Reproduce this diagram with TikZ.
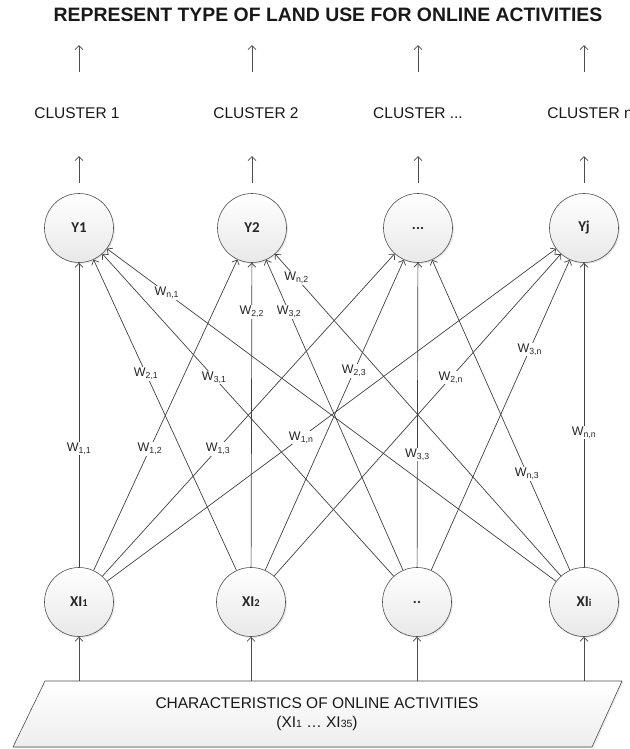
\documentclass[tikz,border=0pt]{standalone}
\usepackage{fontspec}
\setmainfont{Liberation Sans}
\newfontfamily\calfont{Carlito}
\usetikzlibrary{arrows.meta,shadows,calc}

% W label with a two-part index, e.g. W_{n,1}
\newcommand\wsub[2]{W\textsubscript{#1,#2}}
% small index set on the baseline of a node label
\newcommand\smallidx[1]{{\fontsize{10.5}{10}\selectfont #1}}

\begin{document}
\begin{tikzpicture}[x=1pt,y=-1pt,
  neuron/.style={circle, draw=black!70, line width=0.6pt, minimum size=69pt,
    inner sep=0pt, top color=white, bottom color=black!9,
    drop shadow={opacity=0.18, shadow xshift=1.4pt, shadow yshift=-1.4pt},
    font=\calfont\bfseries\fontsize{15}{18}\selectfont, text=black!85},
  link/.style={draw=black!75, line width=0.7pt,
    -{Straight Barb[length=4pt,width=8pt]}},
  uparr/.style={draw=black!70, line width=0.7pt,
    -{Straight Barb[length=4pt,width=8pt]}},
  wlab/.style={fill=white, inner sep=1pt, text=black!85,
    font=\fontsize{12.5}{14}\selectfont},
  clus/.style={font=\fontsize{15.5}{18}\selectfont, text=black!90},
  titlefont/.style={font=\bfseries\fontsize{19.4}{22}\selectfont},
]
\useasboundingbox (0,0) rectangle (629,749);

% heading
\node[titlefont, text=black!90] (title) at (328,15)
  {REPRESENT TYPE OF LAND USE FOR ONLINE ACTIVITIES};

% output clusters
\node[clus] (c1) at (77,113) {CLUSTER 1};
\node[clus] (c2) at (256,113) {CLUSTER 2};
\node[clus] (c3) at (418,113) {CLUSTER ...};
\node[clus] (c4) at (590,113) {CLUSTER n};

% output layer
\node[neuron] (Y1) at (79,228) {Y1};
\node[neuron] (Y2) at (252,228) {Y2};
\node[neuron] (Y3) at (418,228) {...};
\node[neuron] (Y4) at (584,228) {Yj};

% input layer
\node[neuron] (X1) at (79,602) {XI\smallidx{1}};
\node[neuron] (X2) at (251,602) {XI\smallidx{2}};
\node[neuron] (X3) at (417,602) {..};
\node[neuron] (X4) at (584,602) {XI\smallidx{i}};

% arrows above the output layer
\foreach \k in {1,...,4} {
  \draw[uparr] (Y\k.north) ++(0,-10) -- ++(0,-27);
  \draw[uparr] (Y\k.north) ++(0,-121) -- ++(0,-27);
}

% data source
\draw[draw=black!70, line width=0.6pt, top color=white, bottom color=black!7,
  drop shadow={opacity=0.15, shadow xshift=1.4pt, shadow yshift=-1.4pt}]
  (45,681) -- (622,681) -- (592,747) -- (13,747) -- cycle;
\coordinate (base) at (0,681);
\node[align=center, font=\fontsize{15.5}{19}\selectfont, text=black!90] (chars) at (317,714)
  {CHARACTERISTICS OF ONLINE ACTIVITIES\\(XI\smallidx{1} \dots{} XI\smallidx{35})};
\foreach \k in {1,...,4}
  \draw[uparr] (base -| X\k) -- (X\k);

% weighted connections
\foreach \i in {1,...,4}
  \foreach \j in {1,...,4}
    \draw[link] (X\i) -- (Y\j);

% weight labels
\node[wlab] (w11) at ($(X1)!0.41!(Y1)$) {\wsub{1}{1}};
\node[wlab] (w12) at ($(X1)!0.41!(Y2)$) {\wsub{1}{2}};
\node[wlab] (w13) at ($(X1)!0.41!(Y3)$) {\wsub{1}{3}};
\node[wlab] (w1n) at ($(X1)!0.44!(Y4)$) {\wsub{1}{n}};
\node[wlab] (w21) at ($(X2)!0.61!(Y1)$) {\wsub{2}{1}};
\node[wlab] (w22) at ($(X2)!0.775!(Y2)$) {\wsub{2}{2}};
\node[wlab] (w23) at ($(X2)!0.617!(Y3)$) {\wsub{2}{3}};
\node[wlab] (w2n) at ($(X2)!0.60!(Y4)$) {\wsub{2}{n}};
\node[wlab] (w31) at ($(X3)!0.60!(Y1)$) {\wsub{3}{1}};
\node[wlab] (w32) at ($(X3)!0.775!(Y2)$) {\wsub{3}{2}};
\node[wlab] (w33) at ($(X3)!0.394!(Y3)$) {\wsub{3}{3}};
\node[wlab] (w3n) at ($(X3)!0.675!(Y4)$) {\wsub{3}{n}};
\node[wlab] (wn1) at ($(X4)!0.826!(Y1)$) {\wsub{n}{1}};
\node[wlab] (wn2) at ($(X4)!0.866!(Y2)$) {\wsub{n}{2}};
\node[wlab] (wn3) at ($(X4)!0.343!(Y3)$) {\wsub{n}{3}};
\node[wlab] (wnn) at ($(X4)!0.453!(Y4)$) {\wsub{n}{n}};
\end{tikzpicture}
\end{document}
